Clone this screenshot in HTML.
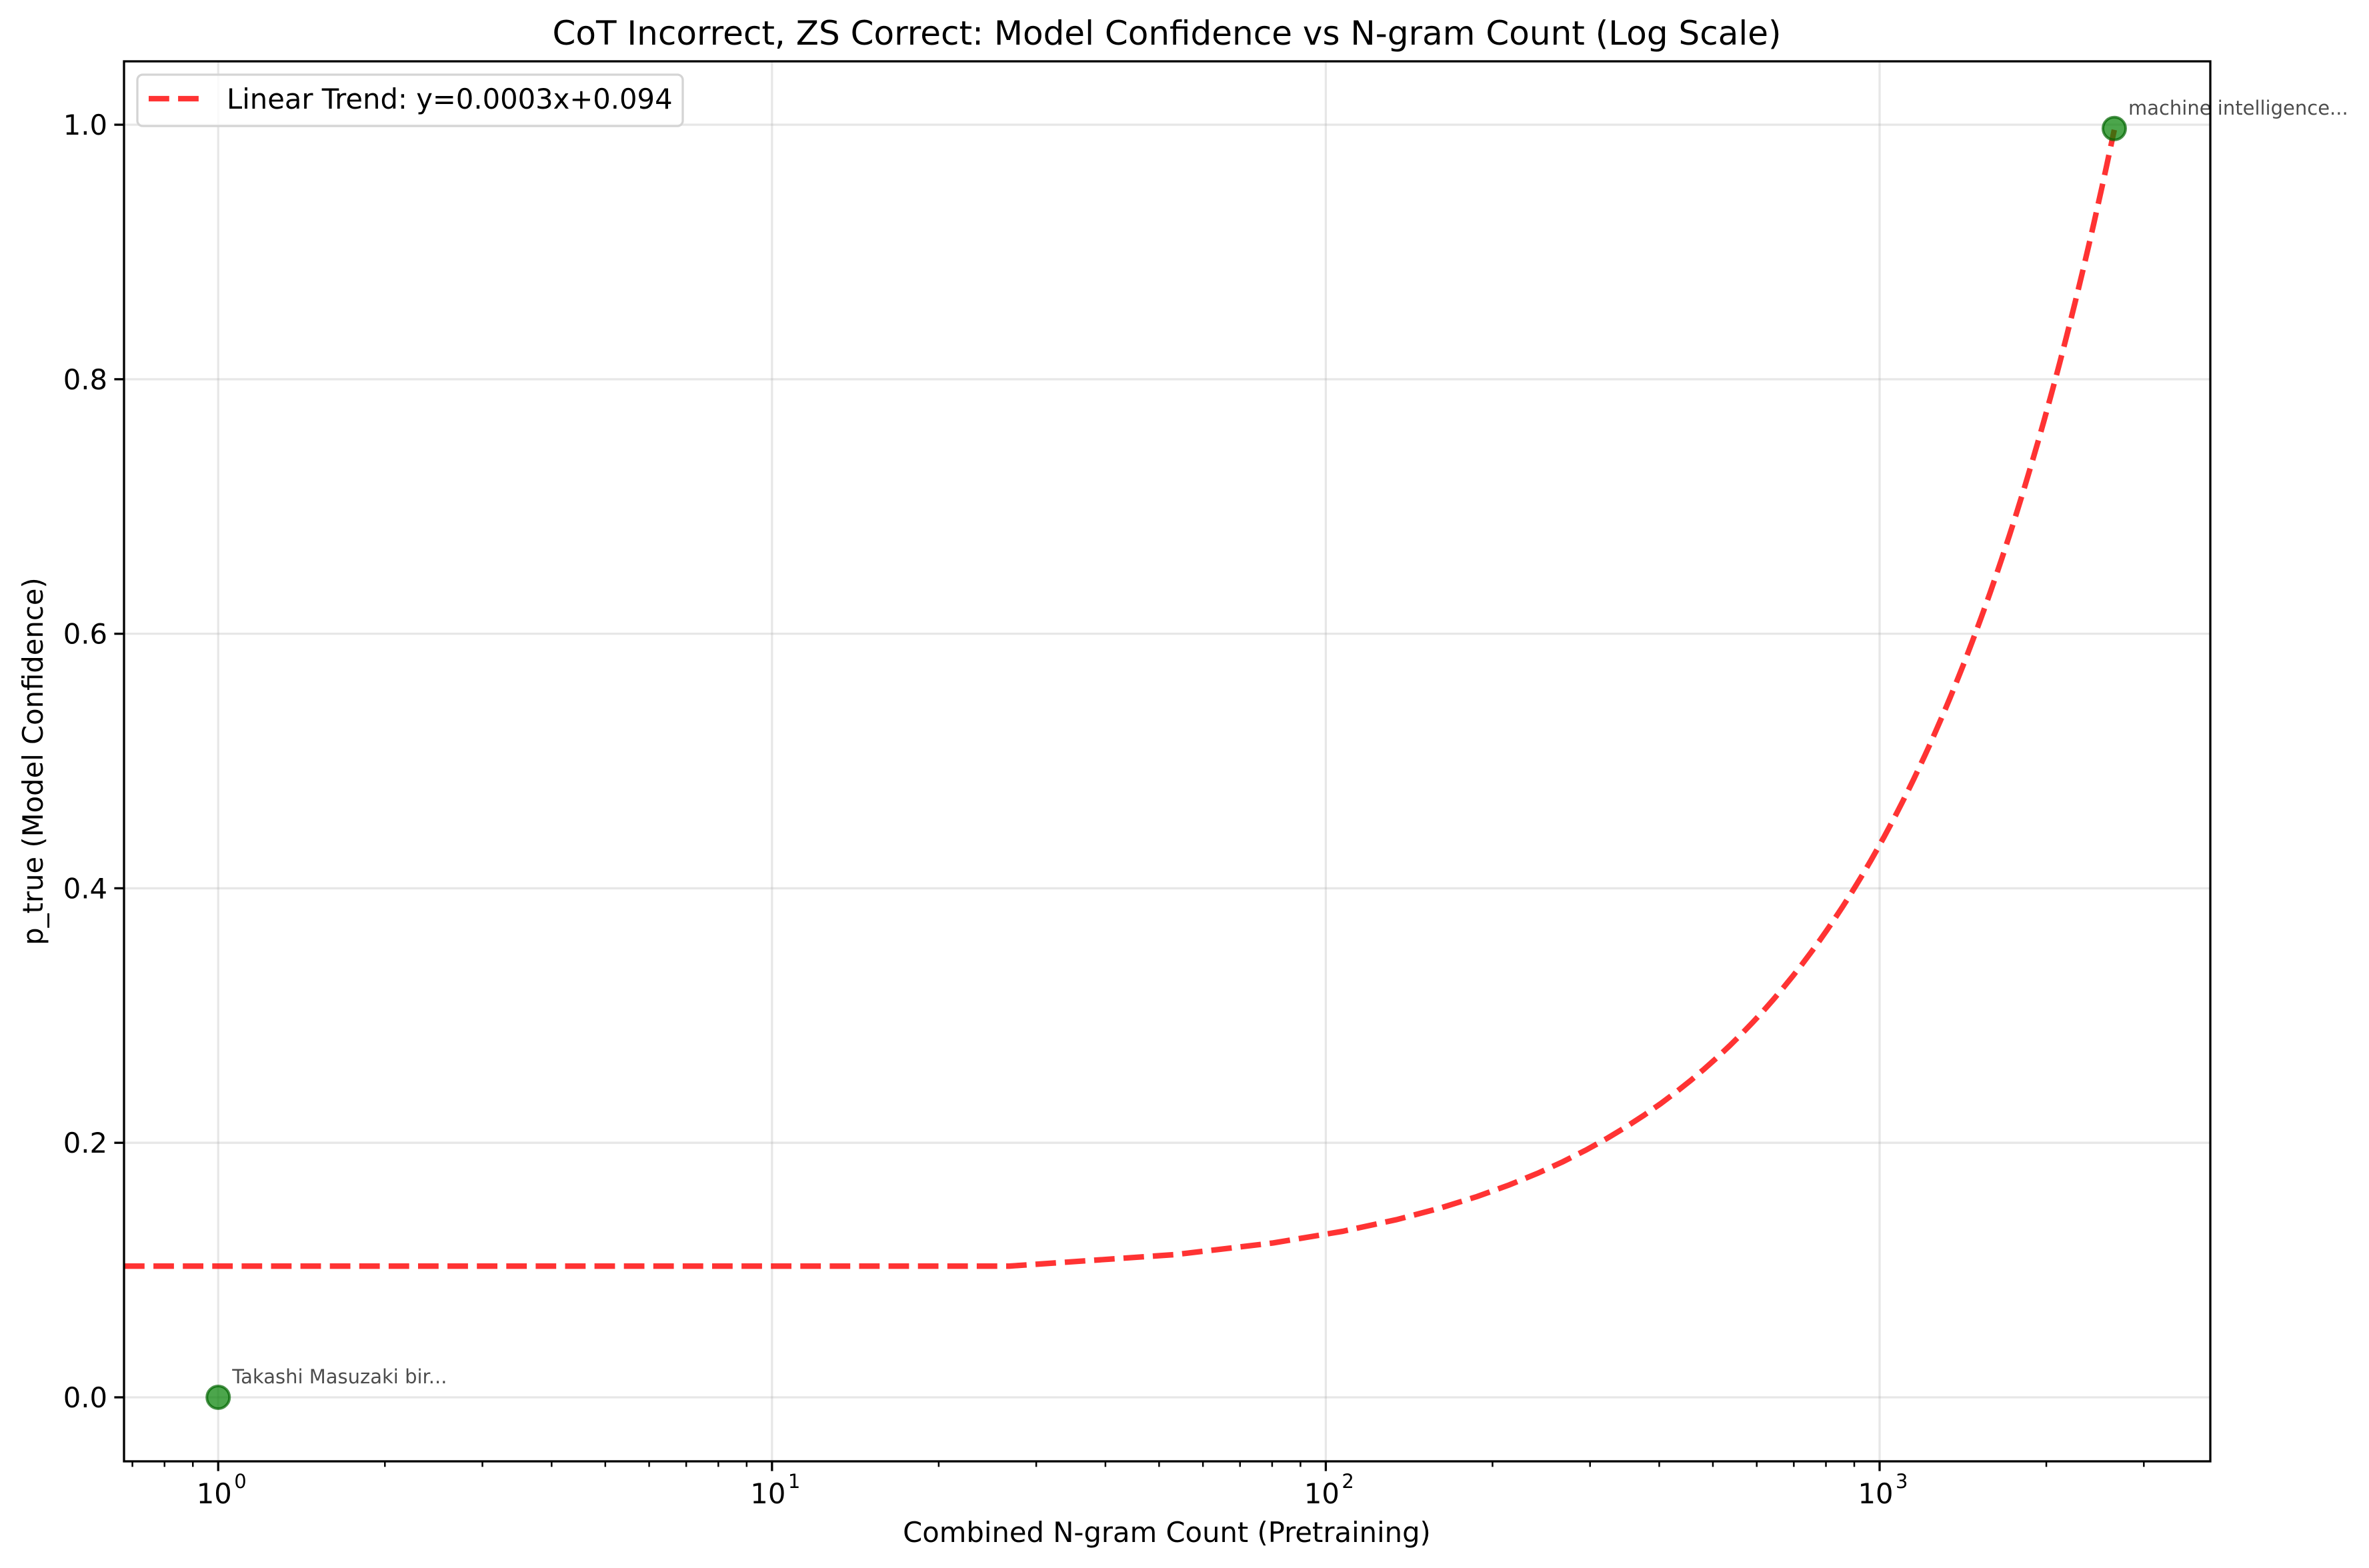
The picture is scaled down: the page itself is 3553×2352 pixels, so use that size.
<!DOCTYPE html>
<html><head><meta charset="utf-8"><style>
html,body{margin:0;padding:0;background:#fff;}
svg{display:block;font-family:"DejaVu Sans","Liberation Sans",sans-serif;}
</style></head><body>
<svg id="chart" width="3553" height="2352" viewBox="0 0 3553 2352" xmlns="http://www.w3.org/2000/svg">
<rect x="0" y="0" width="3553" height="2352" fill="#fff"/>
<g id="grid"></g>
<g id="marks"></g>
<g id="axes"></g>
<text x="1750" y="67" font-size="50" text-anchor="middle">CoT Incorrect, ZS Correct: Model Confidence vs N-gram Count (Log Scale)</text>
<text x="1750" y="2313" font-size="41.7" text-anchor="middle">Combined N-gram Count (Pretraining)</text>
<text x="0" y="0" font-size="41.7" text-anchor="middle" transform="translate(64,1142) rotate(-90)">p_true (Model Confidence)</text>
<g>
<rect x="206" y="112" width="818" height="77" rx="8" fill="#fff" fill-opacity="0.8" stroke="#d4d4d4" stroke-width="3.3"/>
<line x1="223" y1="148" x2="299" y2="148" stroke="#ff0000" stroke-opacity="0.8" stroke-width="8.3" stroke-dasharray="30.8 13.3"/>
<text x="340" y="163" font-size="41.7">Linear Trend: y=0.0003x+0.094</text>
</g>
</svg>
<script>
const pointX = [1, 2653];
const pointY = [0.0, 0.997];
const pointLabels = ["Takashi Masuzaki bir...", "machine intelligence..."];
const trendSlope = [0.00034];
const trendIntercept = [0.094];
const trendRange = [0, 2653];
const yTicks = [0, 0.2, 0.4, 0.6, 0.8, 1.0];
const yTickLabels = ["0.0", "0.2", "0.4", "0.6", "0.8", "1.0"];
const xTickExps = [0, 1, 2, 3];

const L=186,R=3315,T=92,B=2192;
const xMinLog=Math.log10(0.676), xMaxLog=Math.log10(3955);
const yMin=-0.0503, yMax=1.0498;
const NS="http://www.w3.org/2000/svg";
function sx(v){return L+(Math.log10(v)-xMinLog)/(xMaxLog-xMinLog)*(R-L);}
function sy(v){return B-(v-yMin)/(yMax-yMin)*(B-T);}
function mk(tag,attrs,parent){const e=document.createElementNS(NS,tag);for(const k in attrs)e.setAttribute(k,attrs[k]);parent.appendChild(e);return e;}
const grid=document.getElementById('grid'),marks=document.getElementById('marks'),axes=document.getElementById('axes');

yTicks.forEach((t,i)=>{
  const y=sy(t);
  let g=mk('line',{x1:L,x2:R,y1:y,y2:y,stroke:'#b0b0b0','stroke-opacity':0.3,'stroke-width':3.3},grid);
  
  
  let tk=mk('line',{x1:L-14.6,x2:L,y1:y,y2:y,stroke:'#000','stroke-width':3.3},axes);
  
  
  let tx=mk('text',{x:L-25,y:y+15,'font-size':41.7,'text-anchor':'end'},axes);
  tx.textContent=yTickLabels[i];
  
  
});
xTickExps.forEach(e=>{
  const x=sx(Math.pow(10,e));
  let g=mk('line',{x1:x,x2:x,y1:T,y2:B,stroke:'#b0b0b0','stroke-opacity':0.3,'stroke-width':3.3},grid);
  
  
  let tk=mk('line',{x1:x,x2:x,y1:B,y2:B+14.6,stroke:'#000','stroke-width':3.3},axes);
  
  
  let tx=mk('text',{x:x-6,y:2255,'font-size':41.7,'text-anchor':'middle'},axes);
  tx.textContent='10';
  
  
  let sup=mk('text',{x:x+24,y:2232,'font-size':29,'text-anchor':'start'},axes);
  sup.textContent=String(e);
  
  
});
for(let e=-1;e<=3;e++){for(let m=2;m<=9;m++){
  const v=m*Math.pow(10,e); if(v<0.676||v>3955)continue;
  const x=sx(v);
  let tk=mk('line',{x1:x,x2:x,y1:B,y2:B+8.3,stroke:'#000','stroke-width':2.5},axes);
  
  
}}
// trend line: linspace over trendRange; x=0 is -inf on log axis -> clipped to left edge at next point's height
const n=100;
let pts=[];
for(let i=0;i<n;i++){
  const xv=trendRange[0]+(trendRange[1]-trendRange[0])*i/(n-1);
  const yv=trendSlope[0]*xv+trendIntercept[0];
  if(xv<=0) continue;
  if(pts.length===0 && i>0) pts.push([L,sy(yv)]);
  pts.push([sx(xv),sy(yv)]);
}
let tl=mk('polyline',{points:pts.map(p=>p[0].toFixed(1)+','+p[1].toFixed(1)).join(' '),fill:'none',stroke:'#ff0000','stroke-opacity':0.8,'stroke-width':8.3,'stroke-dasharray':'30.8 13.3'},marks);


pointX.forEach((xv,i)=>{
  const cx=sx(xv),cy=sy(pointY[i]);
  let c=mk('circle',{cx:cx,cy:cy,r:17,fill:'#008000','fill-opacity':0.7,stroke:'#006400','stroke-opacity':0.7,'stroke-width':4},marks);
  
  
  let t=mk('text',{x:cx+21,y:cy-21,'font-size':29,fill:'#000','fill-opacity':0.7},marks);
  t.textContent=pointLabels[i];
  
  
});
let sp=mk('rect',{x:L,y:T,width:R-L,height:B-T,fill:'none',stroke:'#000','stroke-width':3.3},axes);


</script>
</body></html>
